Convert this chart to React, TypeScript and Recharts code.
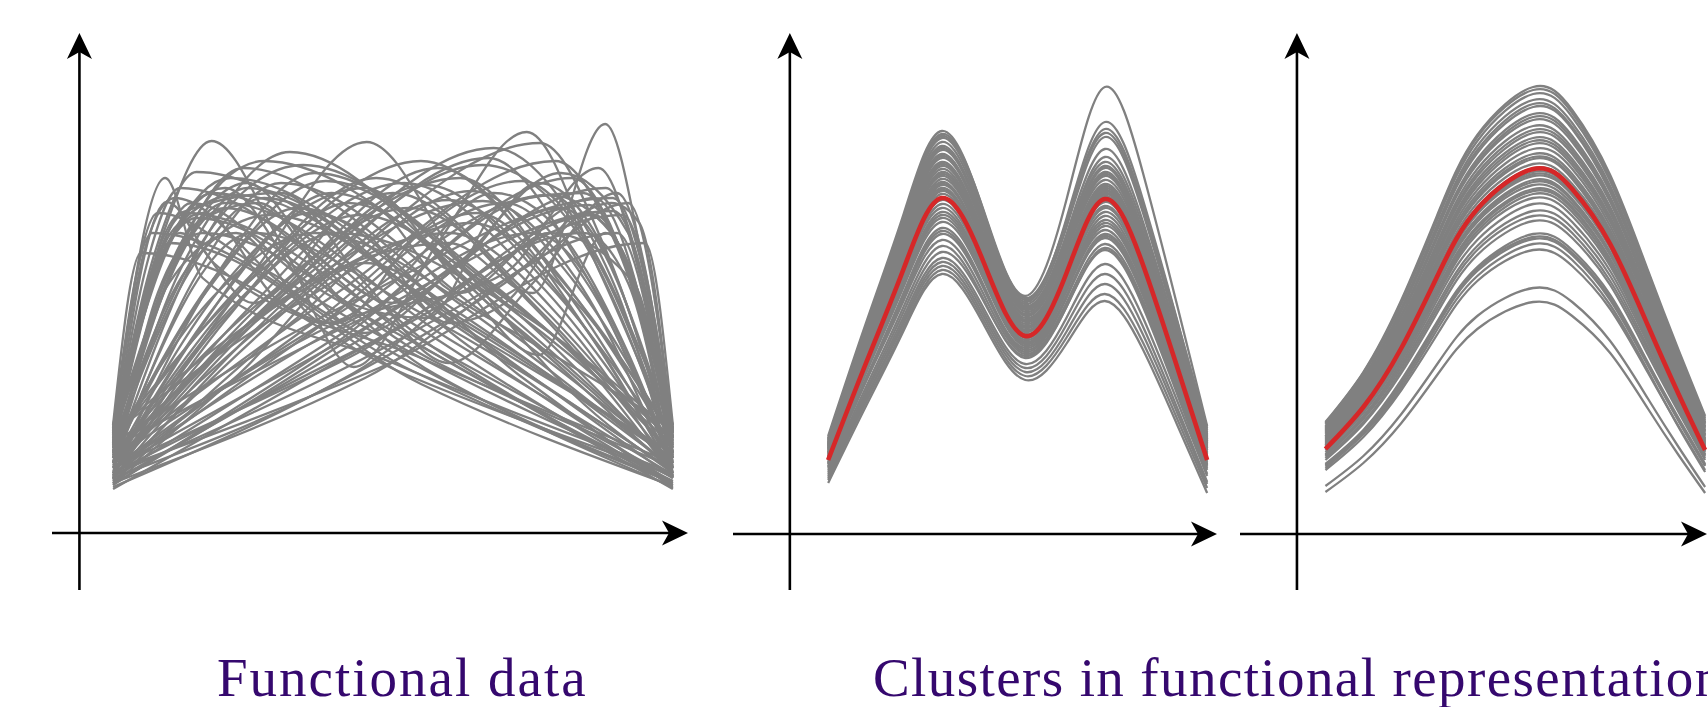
import React from 'react';
import { LineChart, Line, XAxis, YAxis, ReferenceLine } from 'recharts';

// Raw functional observations: each curve is a list of [t, value] knots.
const functionalCurves: number[][][] = [
  [[0, 100], [0.093, 355], [0.16, 255], [0.5, 170], [1, 60]],
  [[0, 90], [0.096, 331], [0.18, 270], [0.55, 175], [1, 70]],
  [[0, 95], [0.075, 281], [0.149, 361], [0.57, 232], [1, 75]],
  [[0, 105], [0.09, 300], [0.176, 392], [0.3, 290], [0.43, 166], [0.58, 290], [0.739, 401], [0.87, 260], [1, 90]],
  [[0, 80], [0.117, 280], [0.233, 365], [0.617, 230], [1, 65]],
  [[0, 70], [0.158, 288], [0.316, 381], [0.658, 241], [1, 70]],
  [[0, 60], [0.25, 260], [0.453, 391], [0.62, 270], [0.82, 140], [1, 60]],
  [[0, 75], [0.35, 250], [0.6, 290], [0.75, 240], [0.879, 409], [0.95, 260], [1, 105]],
  [[0, 65], [0.4, 210], [0.7, 260], [0.867, 365], [0.94, 260], [1, 95]],
  [[0, 90], [0.447, 237], [0.893, 335], [1, 105]],
  [[0, 85], [0.447, 215], [0.894, 322], [1, 100]],
  [[0, 55], [0.381, 256], [0.763, 390], [0.881, 282], [1, 80]],
  [[0, 50], [0.335, 245], [0.67, 375], [0.835, 267], [1, 65]],
  [[0, 60], [0.31, 252], [0.62, 355], [0.81, 241], [1, 70]],
  [[0, 95], [0.065, 252], [0.13, 320], [0.565, 188], [1, 55]],
  [[0, 105], [0.07, 300], [0.535, 162], [1, 50]],
  [[0, 88], [0.06, 268], [0.12, 345], [0.56, 184], [1, 52]],
  [[0, 92], [0.09, 278], [0.18, 340], [0.59, 179], [1, 48]],
  [[0, 78], [0.1, 254], [0.2, 330], [0.6, 194], [1, 58]],
  [[0, 70], [0.12, 263], [0.24, 345], [0.62, 204], [1, 62]],
  [[0, 85], [0.135, 260], [0.27, 335], [0.635, 187], [1, 50]],
  [[0, 65], [0.15, 259], [0.3, 350], [0.65, 225], [1, 72]],
  [[0, 75], [0.165, 240], [0.33, 325], [0.665, 190], [1, 55]],
  [[0, 58], [0.18, 254], [0.36, 360], [0.68, 248], [1, 80]],
  [[0, 66], [0.195, 236], [0.39, 340], [0.695, 218], [1, 68]],
  [[0, 52], [0.21, 219], [0.42, 330], [0.71, 209], [1, 60]],
  [[0, 72], [0.235, 247], [0.47, 355], [0.735, 243], [1, 75]],
  [[0, 62], [0.25, 229], [0.5, 340], [0.75, 227], [1, 58]],
  [[0, 80], [0.265, 232], [0.53, 325], [0.765, 221], [1, 66]],
  [[0, 55], [0.28, 225], [0.56, 348], [0.78, 247], [1, 82]],
  [[0, 68], [0.3, 222], [0.6, 333], [0.8, 237], [1, 60]],
  [[0, 50], [0.32, 211], [0.64, 342], [0.82, 254], [1, 90]],
  [[0, 58], [0.35, 199], [0.7, 330], [0.85, 247], [1, 70]],
  [[0, 62], [0.365, 213], [0.73, 352], [0.865, 272], [1, 85]],
  [[0, 48], [0.39, 187], [0.78, 338], [0.89, 255], [1, 60]],
  [[0, 56], [0.41, 200], [0.82, 355], [0.91, 277], [1, 95]],
  [[0, 65], [0.425, 197], [0.85, 328], [1, 78]],
  [[0, 52], [0.44, 193], [0.88, 345], [1, 88]],
  [[0, 60], [0.455, 189], [0.91, 318], [1, 100]],
  [[0, 75], [0.395, 238], [0.79, 372], [0.895, 293], [1, 108]],
  [[0, 90], [0.275, 273], [0.55, 372], [0.775, 272], [1, 85]],
  [[0, 70], [0.34, 259], [0.68, 385], [0.84, 300], [1, 100]],
  [[0, 100], [0.135, 304], [0.27, 372], [0.635, 261], [1, 95]],
  [[0, 108], [0.105, 293], [0.21, 355], [0.605, 225], [1, 65]],
  [[0, 85], [0.1, 290], [0.2, 345], [0.34, 250], [0.45, 200], [0.6, 260], [0.8, 360], [0.92, 300], [1, 80]],
  [[0, 70], [0.15, 310], [0.26, 330], [0.42, 230], [0.56, 215], [0.7, 330], [0.84, 340], [0.95, 200], [1, 75]],
  [[0, 95], [0.12, 300], [0.25, 230], [0.45, 330], [0.62, 240], [0.78, 300], [0.93, 250], [1, 65]],
  [[0, 48], [0.225, 159], [0.45, 270], [0.725, 158], [1, 45]],
  [[0, 82], [0.075, 257], [0.15, 315], [0.575, 159], [1, 46]],
  [[0, 46], [0.43, 160], [0.86, 318], [1, 92]],
  [[0, 75], [0.1, 290], [0.55, 149], [1, 47]],
  [[0, 50], [0.45, 155], [0.9, 300], [1, 75]],
  [[0, 90], [0.18, 237], [0.36, 300], [0.68, 212], [1, 105]],
  [[0, 100], [0.32, 226], [0.64, 310], [0.82, 235], [1, 95]],
  [[0, 108], [0.05, 280], [0.525, 158], [1, 58]],
  [[0, 62], [0.475, 165], [0.95, 290], [1, 108]],
  [[0, 90], [0.12, 320], [0.3, 340], [0.45, 250], [0.6, 170], [0.75, 250], [0.9, 340], [1, 100]],
  [[0, 70], [0.2, 250], [0.45, 345], [0.62, 250], [0.76, 178], [0.88, 300], [1, 95]],
  [[0, 98], [0.06, 290], [0.11, 335], [0.3, 250], [0.6, 150], [1, 52]],
  [[0, 55], [0.4, 150], [0.7, 250], [0.89, 330], [0.94, 310], [1, 96]],
  [[0, 102], [0.08, 320], [0.25, 270], [0.5, 190], [1, 56]],
  [[0, 58], [0.5, 190], [0.75, 270], [0.92, 330], [1, 102]],
  [[0, 86], [0.14, 330], [0.35, 250], [0.62, 165], [1, 44]],
  [[0, 44], [0.38, 165], [0.65, 250], [0.86, 335], [1, 86]],
  [[0, 93], [0.2, 325], [0.45, 240], [0.7, 150], [1, 48]],
  [[0, 49], [0.3, 150], [0.55, 240], [0.8, 325], [1, 93]],
  [[0, 70], [0.25, 300], [0.55, 220], [1, 62]],
  [[0, 64], [0.45, 220], [0.75, 300], [1, 72]],
  [[0, 82], [0.19, 262], [0.38, 352], [0.69, 235], [1, 64]],
  [[0, 68], [0.22, 230], [0.44, 318], [0.72, 220], [1, 88]],
  [[0, 96], [0.26, 260], [0.52, 350], [0.76, 250], [1, 70]],
  [[0, 60], [0.29, 236], [0.58, 365], [0.79, 260], [1, 98]],
  [[0, 78], [0.33, 243], [0.66, 332], [0.83, 252], [1, 55]],
  [[0, 88], [0.14, 270], [0.28, 318], [0.64, 200], [1, 80]],
  [[0, 54], [0.08, 240], [0.16, 300], [0.58, 170], [1, 66]],
  [[0, 66], [0.42, 175], [0.84, 300], [0.92, 250], [1, 56]],
  [[0, 104], [0.11, 305], [0.22, 338], [0.61, 215], [1, 74]],
  [[0, 74], [0.39, 215], [0.78, 338], [0.89, 300], [1, 104]],
  [[0, 92], [0.17, 300], [0.34, 368], [0.67, 250], [1, 92]],
  [[0, 80], [0.33, 250], [0.66, 368], [0.83, 300], [1, 80]],
  [[0, 57], [0.2, 215], [0.4, 300], [0.7, 230], [1, 100]],
  [[0, 100], [0.3, 230], [0.6, 300], [0.8, 215], [1, 57]],
  [[0, 80], [0.08, 270], [0.16, 320], [0.3, 230], [0.4, 210], [0.55, 300], [0.65, 320], [0.85, 200], [1, 60]],
  [[0, 60], [0.15, 200], [0.35, 320], [0.45, 300], [0.6, 210], [0.7, 230], [0.84, 320], [0.92, 270], [1, 80]],
  [[0, 90], [0.1, 250], [0.22, 300], [0.38, 210], [0.5, 250], [0.68, 340], [0.8, 300], [0.92, 180], [1, 70]],
  [[0, 75], [0.12, 280], [0.24, 350], [0.36, 280], [0.5, 230], [0.64, 280], [0.76, 350], [0.88, 280], [1, 75]],
];

// First cluster: two-peaked curves sampled on a common grid.
const clusterAGrid = [0, 0.1, 0.2, 0.3, 0.41, 0.52, 0.63, 0.73, 0.83, 0.92, 1.0];
const clusterACurves: number[][] = [
  [95, 208, 318, 400, 324, 238, 336, 447, 362, 230, 108],
  [98, 211, 321, 403, 323, 232, 317, 412, 335, 215, 104],
  [94, 207, 316, 398, 321, 234, 314, 405, 330, 214, 106],
  [92, 205, 314, 396, 321, 236, 314, 401, 326, 208, 100],
  [90, 202, 310, 392, 316, 230, 308, 397, 322, 206, 98],
  [96, 204, 309, 388, 312, 226, 297, 377, 308, 201, 102],
  [89, 199, 306, 386, 311, 227, 301, 385, 313, 201, 97],
  [88, 198, 304, 384, 311, 228, 296, 372, 303, 195, 96],
  [93, 199, 303, 380, 306, 222, 290, 366, 298, 192, 94],
  [91, 197, 301, 378, 306, 224, 292, 368, 300, 193, 95],
  [86, 193, 298, 376, 305, 225, 289, 362, 296, 194, 99],
  [90, 194, 296, 372, 300, 218, 284, 358, 292, 188, 92],
  [85, 191, 293, 370, 299, 219, 285, 360, 293, 189, 93],
  [84, 189, 291, 368, 298, 220, 283, 354, 289, 188, 95],
  [88, 191, 290, 365, 294, 214, 278, 350, 285, 184, 90],
  [82, 186, 286, 362, 293, 216, 277, 346, 283, 184, 93],
  [87, 188, 286, 360, 291, 213, 277, 348, 284, 184, 91],
  [86, 187, 285, 358, 288, 210, 273, 343, 279, 180, 88],
  [80, 182, 281, 355, 288, 212, 272, 340, 278, 181, 91],
  [84, 183, 280, 352, 283, 206, 268, 338, 275, 177, 86],
  [81, 181, 277, 350, 283, 207, 270, 341, 278, 178, 87],
  [78, 178, 276, 349, 283, 208, 272, 344, 279, 178, 84],
  [82, 180, 275, 346, 279, 204, 264, 332, 271, 177, 89],
  [77, 176, 272, 344, 278, 203, 265, 334, 272, 174, 84],
  [76, 175, 271, 343, 276, 200, 260, 328, 267, 171, 82],
  [80, 176, 270, 340, 275, 202, 265, 336, 274, 176, 86],
  [75, 171, 264, 334, 270, 198, 258, 326, 265, 169, 81],
  [74, 169, 261, 330, 267, 196, 255, 322, 262, 167, 80],
  [78, 170, 259, 326, 263, 192, 251, 318, 258, 164, 78],
  [72, 165, 255, 322, 262, 194, 250, 314, 255, 162, 76],
  [71, 163, 252, 319, 259, 191, 247, 311, 252, 160, 75],
  [70, 161, 250, 316, 256, 188, 244, 308, 250, 158, 74],
  [74, 162, 248, 312, 255, 190, 244, 304, 246, 156, 72],
  [68, 156, 242, 306, 249, 184, 239, 300, 243, 153, 70],
  [67, 154, 239, 303, 246, 182, 237, 298, 241, 151, 69],
  [66, 153, 237, 300, 246, 186, 238, 296, 239, 150, 68],
  [70, 153, 234, 294, 240, 180, 232, 290, 234, 147, 66],
  [64, 147, 228, 288, 235, 176, 228, 286, 231, 144, 64],
  [62, 143, 223, 282, 233, 178, 228, 284, 228, 141, 60],
  [60, 140, 218, 276, 226, 170, 217, 270, 217, 134, 58],
  [56, 136, 214, 272, 222, 166, 210, 260, 208, 127, 52],
  [58, 136, 211, 268, 218, 162, 203, 250, 200, 122, 50],
  [51, 128, 204, 260, 210, 154, 191, 233, 185, 110, 41],
  [54, 132, 207, 264, 214, 158, 197, 240, 192, 116, 46],
];
const clusterAMean = [74, 171, 266, 336, 272, 198, 262, 335, 270, 168, 74];

// Second cluster: single-bump curves sampled on a common grid.
const clusterBGrid = [0, 0.1, 0.2, 0.3, 0.4, 0.547, 0.65, 0.75, 0.85, 0.93, 1.0];
const clusterBCurves: number[][] = [
  [112, 162, 234, 324, 399, 447, 424, 359, 263, 184, 118],
  [111, 161, 232, 322, 397, 444, 421, 356, 261, 181, 116],
  [110, 160, 230, 319, 393, 440, 417, 353, 258, 179, 114],
  [108, 157, 226, 314, 388, 434, 411, 348, 254, 176, 112],
  [107, 155, 224, 312, 384, 430, 407, 345, 252, 175, 111],
  [106, 154, 223, 309, 381, 427, 405, 342, 250, 173, 110],
  [104, 151, 219, 304, 375, 420, 398, 337, 246, 170, 108],
  [103, 150, 217, 302, 372, 417, 395, 334, 244, 169, 107],
  [105, 151, 217, 301, 370, 414, 392, 332, 242, 167, 106],
  [102, 148, 213, 296, 365, 408, 386, 327, 238, 165, 104],
  [101, 146, 211, 293, 361, 404, 383, 324, 236, 163, 103],
  [100, 145, 209, 291, 358, 401, 380, 321, 234, 162, 102],
  [98, 143, 206, 287, 354, 396, 375, 317, 231, 159, 100],
  [98, 142, 205, 285, 351, 393, 372, 315, 229, 158, 99],
  [97, 141, 203, 283, 348, 390, 369, 312, 227, 156, 98],
  [95, 138, 200, 279, 344, 385, 365, 308, 223, 154, 96],
  [96, 139, 199, 276, 340, 380, 360, 304, 220, 151, 94],
  [94, 136, 197, 273, 337, 377, 357, 302, 219, 151, 95],
  [93, 135, 195, 272, 335, 375, 355, 299, 217, 148, 92],
  [92, 134, 193, 268, 331, 370, 350, 296, 215, 148, 93],
  [91, 132, 191, 265, 327, 366, 347, 293, 212, 146, 91],
  [90, 131, 189, 262, 323, 362, 343, 289, 210, 144, 90],
  [89, 130, 187, 261, 322, 360, 341, 288, 209, 143, 89],
  [88, 128, 186, 259, 320, 358, 339, 286, 207, 142, 88],
  [89, 129, 185, 257, 316, 354, 335, 282, 204, 139, 86],
  [87, 127, 183, 255, 314, 352, 333, 281, 204, 140, 87],
  [86, 125, 182, 253, 312, 349, 330, 279, 201, 138, 85],
  [84, 123, 179, 249, 308, 345, 327, 275, 199, 136, 84],
  [85, 124, 179, 248, 306, 343, 325, 274, 198, 135, 83],
  [82, 121, 176, 245, 303, 340, 322, 271, 196, 133, 82],
  [80, 118, 173, 242, 300, 336, 318, 268, 193, 131, 80],
  [79, 117, 170, 238, 294, 330, 312, 263, 190, 129, 79],
  [78, 115, 167, 233, 288, 323, 306, 258, 186, 127, 78],
  [76, 112, 164, 229, 284, 318, 301, 253, 183, 124, 76],
  [74, 110, 161, 225, 279, 313, 296, 249, 179, 122, 74],
  [70, 104, 154, 216, 267, 300, 284, 239, 171, 116, 70],
  [69, 103, 152, 213, 265, 297, 281, 236, 170, 114, 69],
  [68, 102, 150, 212, 263, 295, 279, 234, 168, 113, 68],
  [66, 100, 147, 208, 258, 290, 274, 229, 163, 107, 62],
  [64, 97, 144, 203, 253, 284, 268, 225, 161, 108, 64],
  [48, 78, 120, 173, 218, 246, 232, 193, 135, 87, 47],
  [42, 71, 111, 162, 205, 232, 218, 181, 125, 79, 41],
];
const clusterBMean = [85, 127, 186, 262, 325, 365, 345, 290, 208, 140, 84];

const titleLeft = 'Functional data';
const titleRight = 'Clusters in functional representation';

const GREY = '#808080';
const RED = '#d62728';
const INK = '#35086e';
const PAD = 16;

type Frame = {
  left: number;
  top: number;
  width: number;
  height: number;
  xDomain: [number, number];
  yDomain: [number, number];
  yAxisAt: number;
};

const frames: Frame[] = [
  { left: 52, top: 33, width: 636, height: 557, xDomain: [-0.109, 1.027], yDomain: [-57, 500], yAxisAt: -0.06 },
  { left: 733, top: 33, width: 484, height: 557, xDomain: [-0.251, 1.026], yDomain: [-56, 501], yAxisAt: -0.101 },
  { left: 1240, top: 33, width: 467, height: 557, xDomain: [-0.225, 1.005], yDomain: [-56, 501], yAxisAt: -0.075 },
];

type Pt = { t: number; v: number };
type CurveKind = 'monotone' | 'natural';

const fromKnots = (knots: number[][]): Pt[] => knots.map(([t, v]) => ({ t, v }));
const fromGrid = (grid: number[], vals: number[]): Pt[] => grid.map((t, i) => ({ t, v: vals[i] }));

// Axis line ending in a stealth-style arrowhead at (x2, y2).
function ArrowAxis(props: any) {
  const { x1, y1, x2, y2 } = props;
  const dx = x2 - x1;
  const dy = y2 - y1;
  const len = Math.hypot(dx, dy) || 1;
  const ux = dx / len;
  const uy = dy / len;
  const nx = -uy;
  const ny = ux;
  const L = 26;
  const W = 12.5;
  const notch = 19;
  const bx = x2 - ux * L;
  const by = y2 - uy * L;
  const d = `M${x2},${y2} L${bx + nx * W},${by + ny * W} L${x2 - ux * notch},${y2 - uy * notch} L${bx - nx * W},${by - ny * W} Z`;
  return (
    <g>
      <line x1={x1} y1={y1} x2={x2 - ux * notch} y2={y2 - uy * notch} stroke="#000" strokeWidth={2.6} />
      <path d={d} fill="#000" />
    </g>
  );
}

function Panel({ frame, grey, mean, kind }: { frame: Frame; grey: Pt[][]; mean?: Pt[]; kind: CurveKind }) {
  const { left, top, width, height, xDomain, yDomain, yAxisAt } = frame;
  return (
    <div style={{ position: 'absolute', left: left - PAD, top: top - PAD }}>
      <LineChart
        width={width + 2 * PAD}
        height={height + 2 * PAD}
        margin={{ top: PAD, right: PAD, bottom: PAD, left: PAD }}
      >
        <XAxis type="number" dataKey="t" domain={xDomain} hide allowDataOverflow />
        <YAxis type="number" dataKey="v" domain={yDomain} hide allowDataOverflow />
        <ReferenceLine
          ifOverflow="visible"
          segment={[{ x: xDomain[0], y: 0 }, { x: xDomain[1], y: 0 }]}
          shape={ArrowAxis}
        />
        <ReferenceLine
          ifOverflow="visible"
          segment={[{ x: yAxisAt, y: yDomain[0] }, { x: yAxisAt, y: yDomain[1] }]}
          shape={ArrowAxis}
        />
        {grey.map((pts, i) => (
          <Line
            key={`g${i}`}
            data={pts}
            dataKey="v"
            type={kind}
            stroke={GREY}
            strokeWidth={2.3}
            dot={false}
            activeDot={false}
            isAnimationActive={false}
          />
        ))}
        {mean && (
          <Line
            data={mean}
            dataKey="v"
            type={kind}
            stroke={RED}
            strokeWidth={4.6}
            dot={false}
            activeDot={false}
            isAnimationActive={false}
          />
        )}
      </LineChart>
    </div>
  );
}

export default function App() {
  const rawSeries = functionalCurves.map(fromKnots);
  const aSeries = clusterACurves.map((c) => fromGrid(clusterAGrid, c));
  const bSeries = clusterBCurves.map((c) => fromGrid(clusterBGrid, c));
  return (
    <div
      style={{
        position: 'absolute',
        left: 0,
        top: 0,
        width: 1708,
        height: 707,
        overflow: 'hidden',
        background: '#fff',
      }}
    >
      <Panel frame={frames[0]} grey={rawSeries} kind="monotone" />
      <Panel frame={frames[1]} grey={aSeries} mean={fromGrid(clusterAGrid, clusterAMean)} kind="natural" />
      <Panel frame={frames[2]} grey={bSeries} mean={fromGrid(clusterBGrid, clusterBMean)} kind="natural" />
      <svg
        width={1708}
        height={707}
        style={{ position: 'absolute', left: 0, top: 0, pointerEvents: 'none' }}
      >
        <text x={217} y={696} fontFamily="'Liberation Serif', serif" fontSize={55} letterSpacing={2} fill={INK}>
          {titleLeft}
        </text>
        <text x={873} y={696} fontFamily="'Liberation Serif', serif" fontSize={55} letterSpacing={1.4} fill={INK}>
          {titleRight}
        </text>
      </svg>
    </div>
  );
}
